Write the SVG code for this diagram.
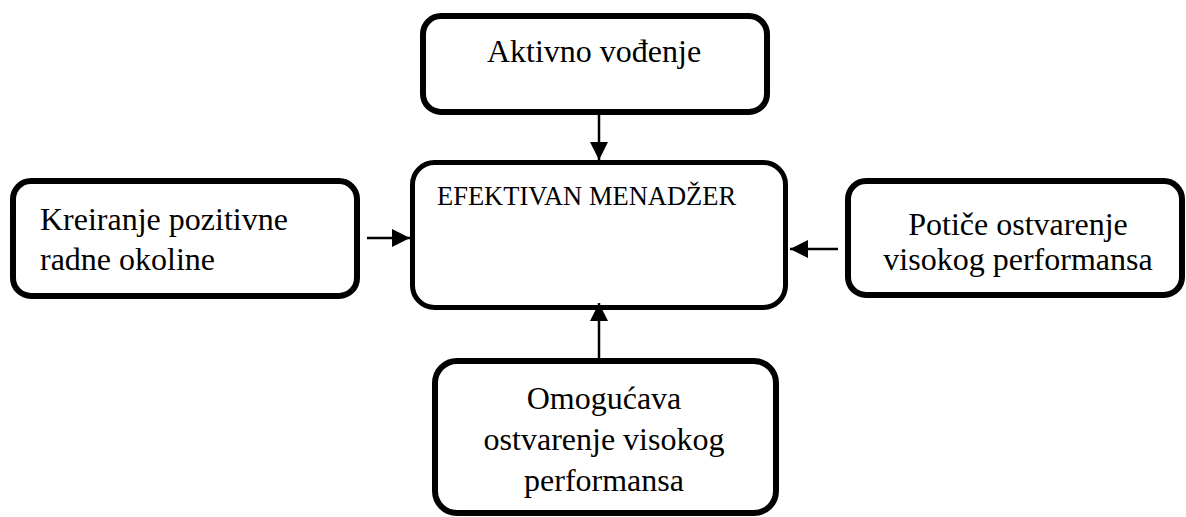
<svg xmlns="http://www.w3.org/2000/svg" width="1186" height="517" viewBox="0 0 1186 517">
<style>
.box{fill:#fff;stroke:#000;stroke-width:6}
.t{font-family:"Liberation Serif","Times New Roman",serif;font-size:32px;fill:#000}
.c{text-anchor:middle}
.conn{stroke:#000;stroke-width:2.5;fill:none}
</style>
<defs>
<marker id="ah" markerUnits="userSpaceOnUse" markerWidth="18" markerHeight="18" viewBox="0 0 16 16" refX="16" refY="8" orient="auto">
<path d="M0,0 L16,8 L0,16 Z" fill="#000"/>
</marker>
</defs>
<rect width="1186" height="517" fill="#fff"/>
<g id="n-aktivno">
<rect class="box" x="423" y="16" width="344" height="96" rx="18"/>
<text class="t c" x="594" y="62">Aktivno vođenje</text>
</g>
<g id="n-efektivan">
<rect class="box" x="412.5" y="162.5" width="373" height="145" rx="22" style="stroke-width:5"/>
<text class="t" x="437" y="205" style="font-size:26.5px">EFEKTIVAN MENADŽER</text>
</g>
<g id="n-kreiranje">
<rect class="box" x="13" y="181" width="344" height="115" rx="18"/>
<text class="t" x="40" y="230">Kreiranje pozitivne</text>
<text class="t" x="40" y="270">radne okoline</text>
</g>
<g id="n-potice">
<rect class="box" x="848" y="181" width="334" height="114" rx="18"/>
<text class="t c" x="1018" y="235">Potiče ostvarenje</text>
<text class="t c" x="1018" y="270">visokog performansa</text>
</g>
<g id="n-omogucava">
<rect class="box" x="435" y="361" width="341" height="152" rx="22"/>
<text class="t c" x="604" y="409">Omogućava</text>
<text class="t c" x="604" y="450">ostvarenje visokog</text>
<text class="t c" x="604" y="491">performansa</text>
</g>
<g id="connectors">
<line class="conn" x1="599" y1="115" x2="599" y2="160" marker-end="url(#ah)"/>
<line class="conn" x1="367" y1="238" x2="410" y2="238" marker-end="url(#ah)"/>
<line class="conn" x1="838" y1="249" x2="790" y2="249" marker-end="url(#ah)"/>
<line class="conn" x1="599" y1="358" x2="599" y2="303" marker-end="url(#ah)"/>
</g>
</svg>
